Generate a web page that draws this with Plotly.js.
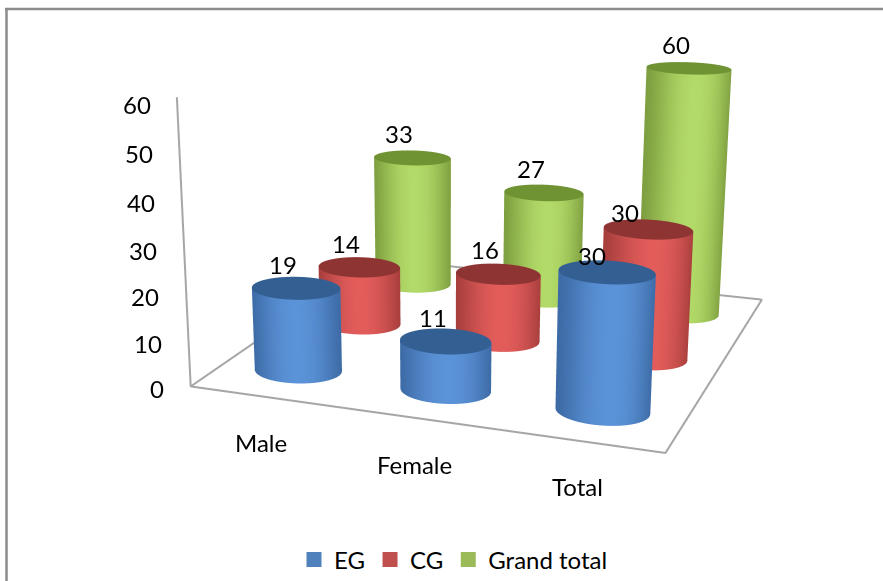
<!DOCTYPE html>
<html><head><meta charset="utf-8">
<script src="https://cdn.plot.ly/plotly-3.0.1.min.js"></script>
<style>html,body{margin:0;background:#fff;overflow:hidden}
#frame{position:relative;width:883px;height:581px;overflow:hidden}
#chart{position:absolute;left:-618px;top:-407px;width:2119px;height:1395px}</style>
</head><body><div id="frame"><div id="chart"></div></div>
<script>
const categories = ['Male', 'Female', 'Total'];
const seriesNames = ['EG', 'CG', 'Grand total'];
const egValues = [19, 11, 30];
const cgValues = [14, 16, 30];
const totalValues = [33, 27, 60];
const axisTicks = [0, 10, 20, 30, 40, 50, 60];
const seriesColors = ['#4f81bd', '#c0504d', '#9bbb59'];
// cap, rim and centre shades of each cylinder
const seriesShades = [
  ['#335f92', '#3d6ba6', '#5b93d8'],
  ['#8e3533', '#a83f3d', '#e25c5a'],
  ['#6f9333', '#7fa040', '#b2da68']
];

const seriesValues = [egValues, cgValues, totalValues];
const aspect = {x: 2.12, y: 2.12, z: 1.30};
const eye = {x: 2.373, y: -7.100, z: 1.9575};
const center = {x: -0.272, y: -0.025, z: -0.4235};
const radiusX = 0.285, radiusY = 0.235;
const floorX = [-0.5, 2.5], floorY = [-0.5, 2.5];
const axisTop = 63;
const data = [];

// The canvas is larger than the window so the long lens stays in frame;
// these map window pixels to paper coordinates.
const fullW = 2119, fullH = 1395, offX = 618, offY = 407;
const paperX = px => (px + offX) / fullW;
const paperY = py => 1 - (py + offY) / fullH;

// Wall plus top cap of one cylinder, shaded by the angle to the viewer
function cylinder(cx, cy, h, shades) {
  const rows = [[1, 0, 'wall'], [1, h, 'wall'], [1, h, 'cap'], [0, h, 'cap']];
  const n = 72, view = Math.atan2(eye.y - center.y, eye.x - center.x);
  const xs = [], ys = [], zs = [], cs = [];
  for (const [r, z, part] of rows) {
    const rx = [], ry = [], rz = [], rc = [];
    for (let i = 0; i <= n; i++) {
      const a = i / n * 2 * Math.PI;
      rx.push(cx + r * radiusX * Math.cos(a));
      ry.push(cy + r * radiusY * Math.sin(a));
      rz.push(z);
      rc.push(part === 'cap' ? 0 : 0.5 + 0.5 * Math.max(0, Math.cos(a - view)) ** 2.5);
    }
    xs.push(rx); ys.push(ry); zs.push(rz); cs.push(rc);
  }
  return {type: 'surface', x: xs, y: ys, z: zs, surfacecolor: cs, cmin: 0, cmax: 1, showscale: false,
    hoverinfo: 'skip', colorscale: [[0, shades[0]], [0.5, shades[1]], [1, shades[2]]],
    lighting: {ambient: 1, diffuse: 0, specular: 0, roughness: 1, fresnel: 0}};
}

categories.forEach((cat, i) => {
  seriesValues.forEach((vals, s) => data.push(cylinder(i, s, vals[i], seriesShades[s])));
});

// Floor outline and the value axis line
data.push({type: 'scatter3d', mode: 'lines', hoverinfo: 'skip', showlegend: false,
  x: [floorX[0], floorX[1], floorX[1], floorX[0], floorX[0], floorX[0]],
  y: [floorY[0], floorY[0], floorY[1], floorY[1], floorY[0], floorY[0]],
  z: [0, 0, 0, 0, 0, axisTop], line: {color: '#a6a6a6', width: 4}});

// Legend keys
seriesNames.forEach((n, s) => {
  data.push({type: 'scatter3d', mode: 'markers', x: [null], y: [null], z: [null], name: n,
    marker: {symbol: 'square', size: 15, color: seriesColors[s]}, showlegend: true});
});

const labelFont = {family: 'Lato', size: 24, color: '#000'};
const annotations = [];
seriesValues.forEach((vals, s) => vals.forEach((v, i) => {
  // the two tall front labels sit lower, against the caps behind them
  const tallFront = i === 2 && s < 2;
  annotations.push({x: i, y: s, z: v, text: String(v), showarrow: false,
    xshift: tallFront ? (s === 0 ? -15 : -23) : -13, yshift: tallFront ? 17 : 24, font: labelFont});
}));
axisTicks.forEach(t => annotations.push({
  x: floorX[0], y: floorY[0], z: t, text: String(t), showarrow: false, xanchor: 'right',
  xshift: -25, yshift: -2 + t * 0.15, font: labelFont}));
categories.forEach((c, i) => annotations.push({
  x: i, y: floorY[0], z: 0, text: c, showarrow: false, xshift: -2, yshift: -46, font: labelFont}));

const hidden = {title: {text: ''}, showgrid: false, showbackground: false, showline: false, zeroline: false,
  showticklabels: false, ticks: '', showspikes: false};

const frameLine = {color: '#8c8c8c', width: 2.5};
const layout = {
  width: fullW, height: fullH, paper_bgcolor: '#fff', margin: {l: 0, r: 0, t: 0, b: 0},
  font: {family: 'Lato', size: 24, color: '#000'},
  showlegend: true,
  legend: {orientation: 'h', x: paperX(294), xanchor: 'left', y: paperY(560), yanchor: 'middle', font: {size: 24}},
  scene: {
    domain: {x: [0, 1], y: [0, 1]},
    aspectmode: 'manual', aspectratio: aspect,
    camera: {eye: eye, center: center},
    // ranges run just past the floor so its outline is not clipped
    xaxis: {...hidden, range: [floorX[0] - 0.01, floorX[1] + 0.01]},
    yaxis: {...hidden, range: [floorY[0] - 0.01, floorY[1] + 0.01]},
    zaxis: {...hidden, range: [-0.3, axisTop + 1]},
    annotations: annotations
  },
  shapes: [
    {type: 'line', xref: 'paper', yref: 'paper', x0: paperX(5), x1: paperX(890), y0: paperY(9), y1: paperY(9), line: frameLine},
    {type: 'line', xref: 'paper', yref: 'paper', x0: paperX(6.5), x1: paperX(6.5), y0: paperY(9), y1: paperY(590), line: frameLine}
  ]
};
Plotly.newPlot('chart', data, layout, {displayModeBar: false});
</script></body></html>
